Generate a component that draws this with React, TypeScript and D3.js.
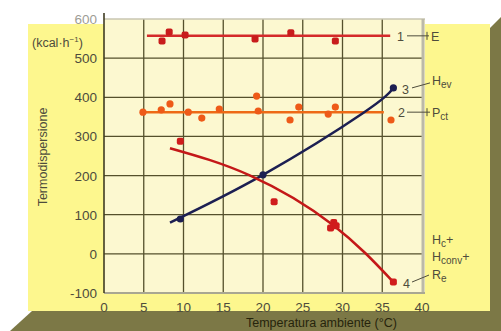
import React from "react";
import * as d3 from "d3";

const W = 501;
const H = 331;

// Axis ticks
const xTicks = [0, 5, 10, 15, 20, 25, 30, 35, 40];
const yTicks = [-100, 0, 100, 200, 300, 400, 500, 600];

// 1 — E : level line and measured points
const eLevel = 557;
const eSpan = [5.4, 36.0];
const ePoints: [number, number][] = [
  [7.3, 544], [8.2, 567], [10.2, 559], [19.0, 549], [23.5, 565], [29.1, 544],
];

// 2 — Pct : level line and measured points
const pctLevel = 362;
const pctSpan = [4.9, 35.2];
const pctPoints: [number, number][] = [
  [4.9, 362], [7.2, 368], [8.3, 383], [10.6, 362], [12.3, 347], [14.5, 370],
  [19.2, 403], [19.4, 365], [23.4, 342], [24.5, 375], [28.2, 357], [29.1, 375],
  [36.1, 342],
];

// 3 — Hev : fitted curve and points
const hevCurve: [number, number][] = [[8.3, 80], [20, 202], [32.6, 360], [36.4, 424]];
const hevPoints: [number, number][] = [[9.6, 89], [20, 202], [36.4, 424]];

// 4 — Hc + Hconv + Re : fitted curve and points
const lossCurve: [number, number][] = [[8.3, 270], [18.4, 200], [28.8, 74], [36.4, -72]];
const lossPoints: [number, number][] = [
  [9.6, 288], [21.4, 133], [28.5, 66], [28.9, 80], [29.2, 72], [36.4, -72],
];

const x = d3.scaleLinear().domain([0, 40]).range([104, 422]);
const y = d3.scaleLinear().domain([-100, 600]).range([293, 19]);

const curve = d3
  .line<[number, number]>()
  .x((d) => x(d[0]))
  .y((d) => y(d[1]))
  .curve(d3.curveNatural);

const FONT = "'Liberation Sans', Arial, sans-serif";
const TXT = "#4e4c3c";

function Square({ d, fill }: { d: [number, number]; fill: string }) {
  return (
    <rect x={x(d[0]) - 3.5} y={y(d[1]) - 3.5} width={7} height={7} rx={2} fill={fill} />
  );
}

export default function App() {
  const [x0, x1] = x.range();
  const [yb, yt] = y.range();
  return (
    <div style={{ position: "fixed", left: 0, top: 0 }}>
      <svg width={W} height={H} style={{ display: "block" }} fontFamily={FONT}>
        <rect width={W} height={H} fill="#ffffff" />
        {/* panel and its shadow */}
        <rect x={28} y={24} width={462} height={287} fill="#fdf78e" />
        <polygon points="490,28 501,17 501,331 490,331" fill="#7c7846" />
        <polygon points="10,331 32,311 490,311 490,331" fill="#7c7846" />

        {/* plot background */}
        <rect x={x0} y={yt} width={x1 - x0 + 3} height={yb - yt} fill="#fcf8d0" />

        {/* grid */}
        {xTicks.slice(1, -1).map((t) => (
          <line key={"gx" + t} x1={x(t)} x2={x(t)} y1={yt} y2={yb} stroke="#55502c" strokeWidth={1.3} />
        ))}
        {yTicks.slice(1, -1).map((t) => (
          <line key={"gy" + t} x1={x0} x2={x1} y1={y(t)} y2={y(t)} stroke="#55502c" strokeWidth={1.3} />
        ))}
        {/* frame */}
        <line x1={x0} x2={x1 + 3} y1={yt} y2={yt} stroke="#c9c6b2" strokeWidth={1.5} />
        <line x1={x1 + 1} x2={x1 + 1} y1={yt} y2={yb} stroke="#bcb9a8" strokeWidth={3} />
        <line x1={x0} x2={x1 + 3} y1={yb} y2={yb} stroke="#a9a792" strokeWidth={2} />
        <line x1={x0} x2={x0} y1={yt - 6} y2={yb} stroke="#3f3c22" strokeWidth={1.6} />

        {/* tick labels */}
        {yTicks.map((t) => (
          <text key={"ty" + t} x={97} y={y(t) + 5} textAnchor="end" fontSize={13.5} fill={TXT}
            opacity={t === 600 ? 0.55 : 1}>
            {t}
          </text>
        ))}
        {xTicks.map((t) => (
          <text key={"tx" + t} x={x(t)} y={312} textAnchor="middle" fontSize={13.5} fill={TXT}>
            {t}
          </text>
        ))}

        {/* unit and axis titles */}
        <text x={32} y={47} fontSize={12.5} fill={TXT}>
          (kcal·h<tspan dy={-5} fontSize={8}>−1</tspan><tspan dy={5}>)</tspan>
        </text>
        <text transform="translate(47,157) rotate(-90)" textAnchor="middle" fontSize={12.5} fill={TXT}>
          Termodispersione
        </text>
        <text x={246} y={327} fontSize={12.5} fill="#26240c">
          Temperatura ambiente (°C)
        </text>

        {/* 1 — E */}
        <line x1={x(eSpan[0])} x2={x(eSpan[1])} y1={y(eLevel)} y2={y(eLevel)} stroke="#d42a2a" strokeWidth={2.5} />
        {ePoints.map((d, i) => <Square key={"e" + i} d={d} fill="#c81c1c" />)}

        {/* 2 — Pct */}
        <line x1={x(pctSpan[0])} x2={x(pctSpan[1])} y1={y(pctLevel)} y2={y(pctLevel)} stroke="#ee6a16" strokeWidth={2.5} />
        {pctPoints.map((d, i) => (
          <circle key={"p" + i} cx={x(d[0])} cy={y(d[1])} r={3.6} fill="#ee5a18" />
        ))}

        {/* 3 — Hev */}
        <path d={curve(hevCurve) ?? ""} fill="none" stroke="#1c1f52" strokeWidth={2.5} />
        {hevPoints.map((d, i) => (
          <circle key={"h" + i} cx={x(d[0])} cy={y(d[1])} r={3.6} fill="#1c1f52" />
        ))}

        {/* 4 — Hc + Hconv + Re */}
        <path d={curve(lossCurve) ?? ""} fill="none" stroke="#c41818" strokeWidth={2.5} />
        {lossPoints.map((d, i) => <Square key={"l" + i} d={d} fill="#d01c1c" />)}

        {/* series keys on the right */}
        <g fontSize={12.5} fill={TXT}>
          <text x={397} y={y(eLevel) + 5}>1</text>
          <line x1={407} x2={429} y1={y(eLevel)} y2={y(eLevel)} stroke={TXT} strokeWidth={1} />
          <line x1={427} x2={427} y1={y(eLevel) - 4} y2={y(eLevel) + 4} stroke={TXT} strokeWidth={1} />
          <text x={431} y={y(eLevel) + 5}>E</text>

          <text x={402} y={y(424) + 6}>3</text>
          <line x1={412} x2={430} y1={y(424)} y2={y(424) - 5} stroke={TXT} strokeWidth={1} />
          <text x={432} y={y(424) - 3}>H<tspan dy={3} fontSize={10}>ev</tspan></text>

          <text x={398} y={y(pctLevel) + 5}>2</text>
          <line x1={407} x2={430} y1={y(pctLevel)} y2={y(pctLevel)} stroke={TXT} strokeWidth={1} />
          <line x1={427} x2={427} y1={y(pctLevel) - 4} y2={y(pctLevel) + 4} stroke={TXT} strokeWidth={1} />
          <text x={432} y={y(pctLevel) + 5}>P<tspan dy={3} fontSize={10}>ct</tspan></text>

          <text x={403} y={y(-72) + 6}>4</text>
          <line x1={412} x2={429} y1={y(-72)} y2={y(-72) - 7} stroke={TXT} strokeWidth={1} />
          <text x={432} y={244}>H<tspan dy={3} fontSize={10}>c</tspan><tspan dy={-3}>+</tspan></text>
          <text x={432} y={261}>H<tspan dy={3} fontSize={10}>conv</tspan><tspan dy={-3}>+</tspan></text>
          <text x={432} y={279}>R<tspan dy={3} fontSize={10}>e</tspan></text>
        </g>
      </svg>
    </div>
  );
}
